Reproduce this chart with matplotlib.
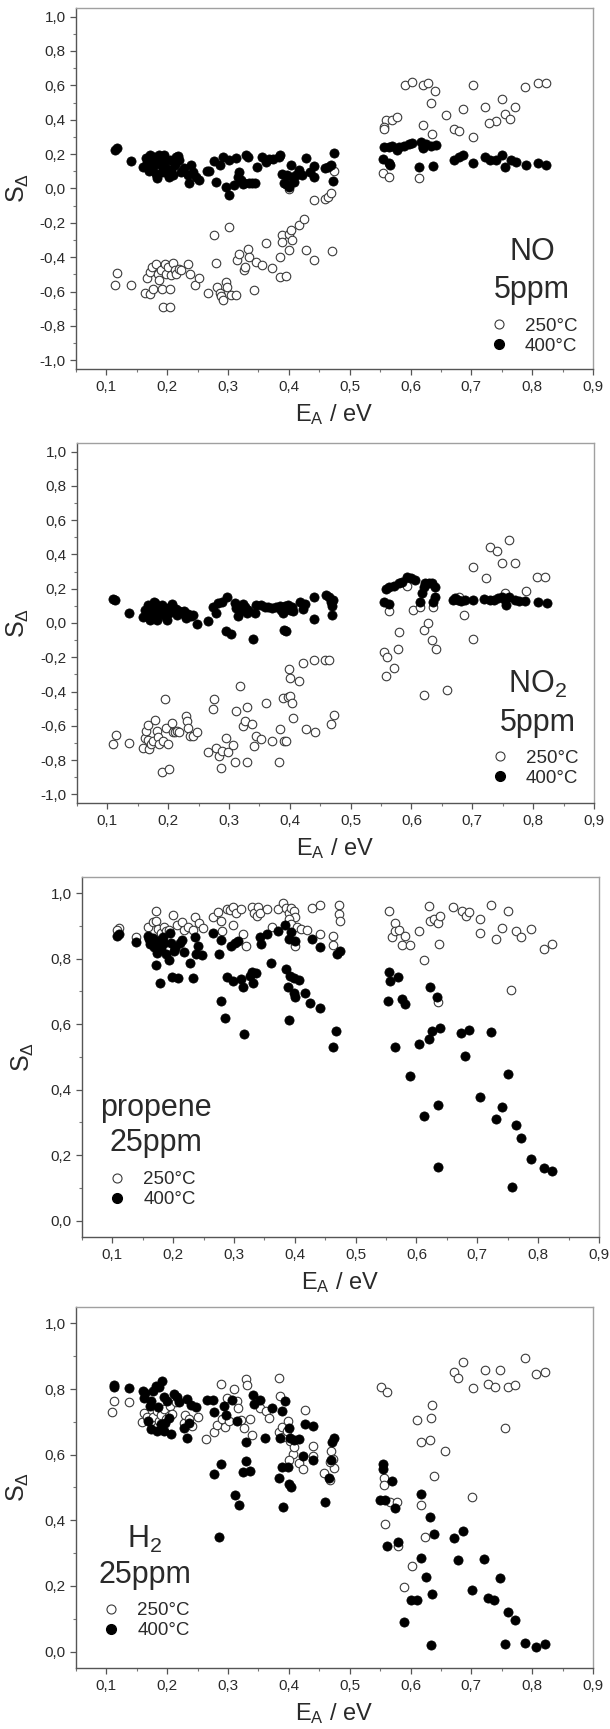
import numpy as np
import matplotlib
matplotlib.use("Agg")
from matplotlib import pyplot as plt
from matplotlib.ticker import MultipleLocator, FuncFormatter
from matplotlib.lines import Line2D

plt.rcParams['font.family'] = ['Liberation Sans', 'DejaVu Sans']
plt.rcParams['mathtext.fontset'] = 'custom'
plt.rcParams['mathtext.rm'] = 'Liberation Sans'
plt.rcParams['mathtext.it'] = 'Liberation Sans:italic'

TXT = '#2a2a2a'

# ---- NO, 5 ppm  (E_A, S_delta) ----
no_250 = [
    (0.114, -0.563), (0.118, -0.491), (0.140, -0.563), (0.163, -0.608), (0.172, -0.612),
    (0.166, -0.518), (0.172, -0.485), (0.175, -0.456), (0.177, -0.583), (0.181, -0.441),
    (0.184, -0.495), (0.186, -0.530), (0.190, -0.476), (0.192, -0.583), (0.193, -0.689),
    (0.196, -0.441), (0.198, -0.495), (0.201, -0.456), (0.204, -0.583), (0.205, -0.689),
    (0.207, -0.505), (0.209, -0.433), (0.212, -0.476), (0.215, -0.495), (0.219, -0.466),
    (0.223, -0.476), (0.234, -0.441), (0.237, -0.495), (0.245, -0.563), (0.252, -0.518),
    (0.267, -0.608), (0.280, -0.433), (0.277, -0.268), (0.281, -0.573), (0.286, -0.608),
    (0.289, -0.627), (0.292, -0.650), (0.296, -0.544), (0.299, -0.573), (0.302, -0.223),
    (0.305, -0.621), (0.313, -0.621), (0.314, -0.417), (0.318, -0.379), (0.326, -0.476),
    (0.328, -0.456), (0.332, -0.350), (0.335, -0.398), (0.343, -0.588), (0.346, -0.427),
    (0.356, -0.447), (0.363, -0.315), (0.372, -0.460), (0.385, -0.515), (0.386, -0.398),
    (0.388, -0.272), (0.389, -0.311), (0.396, -0.511), (0.400, -0.262), (0.401, -0.359),
    (0.403, -0.243), (0.405, -0.301), (0.417, -0.214), (0.425, -0.179), (0.428, -0.359),
    (0.441, -0.068), (0.442, -0.417), (0.460, -0.064), (0.465, -0.049), (0.470, -0.029),
    (0.471, -0.363), (0.475, 0.103), (0.400, -0.005),
    (0.591, 0.602), (0.603, 0.621), (0.620, 0.602), (0.628, 0.612), (0.641, 0.569),
    (0.633, 0.499), (0.703, 0.602), (0.789, 0.592), (0.809, 0.612), (0.823, 0.616),
    (0.658, 0.427), (0.687, 0.460), (0.723, 0.476), (0.750, 0.522), (0.772, 0.476),
    (0.756, 0.433), (0.763, 0.402), (0.741, 0.394), (0.729, 0.379), (0.559, 0.398),
    (0.570, 0.398), (0.578, 0.414), (0.556, 0.355), (0.556, 0.345), (0.621, 0.369),
    (0.672, 0.344), (0.680, 0.336), (0.635, 0.317), (0.703, 0.298), (0.554, 0.091),
    (0.564, 0.064), (0.614, 0.058),
]
no_400 = [
    (0.114, 0.223), (0.117, 0.233), (0.140, 0.161), (0.160, 0.126), (0.165, 0.175),
    (0.167, 0.146), (0.170, 0.103), (0.172, 0.194), (0.174, 0.165), (0.177, 0.126),
    (0.179, 0.181), (0.181, 0.087), (0.183, 0.058), (0.185, 0.155), (0.187, 0.194),
    (0.190, 0.136), (0.192, 0.097), (0.194, 0.194), (0.196, 0.165), (0.198, 0.117),
    (0.201, 0.087), (0.203, 0.068), (0.205, 0.165), (0.207, 0.107), (0.209, 0.078),
    (0.212, 0.136), (0.215, 0.181), (0.217, 0.188), (0.220, 0.165), (0.223, 0.097),
    (0.228, 0.117), (0.234, 0.078), (0.235, 0.029), (0.239, 0.136), (0.243, 0.097),
    (0.247, 0.064), (0.252, 0.049), (0.265, 0.103), (0.269, 0.103), (0.277, 0.161),
    (0.280, 0.039), (0.286, 0.136), (0.291, 0.184), (0.296, 0.010), (0.301, -0.039),
    (0.302, 0.165), (0.310, 0.019), (0.313, 0.175), (0.316, 0.068), (0.318, 0.097),
    (0.321, 0.049), (0.324, 0.025), (0.326, 0.029), (0.329, 0.194), (0.332, 0.181),
    (0.335, 0.033), (0.340, 0.029), (0.344, 0.033), (0.347, 0.126), (0.355, 0.184),
    (0.362, 0.155), (0.367, 0.169), (0.374, 0.173), (0.384, 0.184), (0.386, 0.194),
    (0.389, 0.087), (0.392, 0.033), (0.395, 0.025), (0.397, 0.078), (0.400, 0.010),
    (0.403, 0.136), (0.405, 0.068), (0.408, 0.039), (0.411, 0.078), (0.417, 0.107),
    (0.421, 0.078), (0.428, 0.175), (0.435, 0.097), (0.441, 0.130), (0.442, 0.068),
    (0.460, 0.117), (0.465, 0.126), (0.470, 0.136), (0.472, 0.045), (0.475, 0.208),
    (0.556, 0.239), (0.564, 0.239), (0.570, 0.247), (0.578, 0.223), (0.581, 0.243),
    (0.589, 0.247), (0.597, 0.258), (0.603, 0.266), (0.617, 0.272), (0.621, 0.243),
    (0.626, 0.258), (0.633, 0.247), (0.642, 0.252), (0.620, 0.233), (0.554, 0.169),
    (0.564, 0.150), (0.566, 0.136), (0.614, 0.126), (0.637, 0.130), (0.672, 0.165),
    (0.679, 0.181), (0.686, 0.196), (0.703, 0.150), (0.723, 0.184), (0.730, 0.165),
    (0.740, 0.165), (0.750, 0.194), (0.756, 0.126), (0.765, 0.165), (0.774, 0.155),
    (0.790, 0.136), (0.809, 0.150), (0.823, 0.136),
]

# ---- NO2, 5 ppm ----
no2_250 = [
    (0.110, -0.706), (0.114, -0.654), (0.136, -0.700), (0.159, -0.731), (0.162, -0.673),
    (0.164, -0.629), (0.166, -0.681), (0.167, -0.596), (0.169, -0.735), (0.171, -0.706),
    (0.175, -0.687), (0.178, -0.565), (0.181, -0.629), (0.184, -0.668), (0.185, -0.706),
    (0.189, -0.867), (0.191, -0.687), (0.195, -0.442), (0.196, -0.610), (0.199, -0.706),
    (0.202, -0.851), (0.206, -0.581), (0.208, -0.635), (0.211, -0.635), (0.215, -0.629),
    (0.218, -0.635), (0.229, -0.542), (0.231, -0.571), (0.233, -0.610), (0.236, -0.658),
    (0.241, -0.658), (0.248, -0.639), (0.265, -0.755), (0.274, -0.503), (0.275, -0.442),
    (0.278, -0.731), (0.284, -0.774), (0.286, -0.847), (0.288, -0.745), (0.295, -0.673),
    (0.299, -0.755), (0.307, -0.712), (0.310, -0.813), (0.312, -0.513), (0.318, -0.368),
    (0.323, -0.600), (0.326, -0.571), (0.329, -0.813), (0.330, -0.488), (0.337, -0.590),
    (0.341, -0.720), (0.345, -0.658), (0.353, -0.677), (0.361, -0.465), (0.370, -0.687),
    (0.382, -0.813), (0.384, -0.619), (0.389, -0.436), (0.390, -0.687), (0.393, -0.687),
    (0.397, -0.430), (0.399, -0.268), (0.400, -0.320), (0.400, -0.426), (0.403, -0.465),
    (0.405, -0.557), (0.415, -0.339), (0.422, -0.233), (0.427, -0.619), (0.439, -0.217),
    (0.441, -0.639), (0.457, -0.217), (0.464, -0.217), (0.468, -0.590), (0.472, -0.536),
    (0.563, 0.067), (0.580, -0.055), (0.577, -0.152), (0.554, -0.171), (0.559, -0.198),
    (0.572, -0.262), (0.558, -0.310), (0.592, 0.215), (0.603, 0.076), (0.614, 0.092),
    (0.636, 0.096), (0.620, -0.043), (0.627, -0.001), (0.634, -0.101), (0.640, -0.152),
    (0.621, -0.422), (0.659, -0.391), (0.687, 0.047), (0.701, -0.094), (0.701, 0.324),
    (0.723, 0.260), (0.729, 0.443), (0.740, 0.420), (0.748, 0.347), (0.761, 0.486),
    (0.771, 0.347), (0.789, 0.188), (0.807, 0.266), (0.820, 0.266), (0.754, 0.177),
    (0.678, 0.150),
]
no2_400 = [
    (0.110, 0.138), (0.113, 0.134), (0.136, 0.057), (0.158, 0.034), (0.162, 0.076),
    (0.166, 0.105), (0.169, 0.057), (0.170, 0.018), (0.173, 0.086), (0.176, 0.125),
    (0.177, 0.047), (0.178, 0.115), (0.181, 0.076), (0.182, 0.018), (0.185, 0.096),
    (0.187, 0.057), (0.189, 0.105), (0.192, 0.076), (0.195, 0.038), (0.198, 0.015),
    (0.199, 0.086), (0.202, 0.057), (0.205, 0.096), (0.207, 0.111), (0.210, 0.067),
    (0.213, 0.080), (0.215, 0.047), (0.218, 0.067), (0.222, 0.057), (0.226, 0.067),
    (0.229, 0.028), (0.233, 0.053), (0.237, 0.038), (0.241, 0.047), (0.248, -0.005),
    (0.265, 0.011), (0.274, 0.096), (0.278, 0.061), (0.282, 0.119), (0.288, 0.125),
    (0.296, 0.154), (0.295, -0.049), (0.303, -0.063), (0.310, 0.115), (0.312, 0.086),
    (0.315, 0.042), (0.318, 0.067), (0.323, 0.111), (0.326, 0.096), (0.329, 0.057),
    (0.332, 0.076), (0.340, -0.094), (0.342, 0.061), (0.345, 0.105), (0.353, 0.105),
    (0.359, 0.096), (0.364, 0.096), (0.370, 0.086), (0.378, 0.096), (0.384, 0.100),
    (0.386, 0.076), (0.389, 0.057), (0.390, -0.040), (0.392, 0.100), (0.394, -0.049),
    (0.397, 0.105), (0.400, 0.076), (0.403, 0.096), (0.405, 0.067), (0.416, 0.125),
    (0.422, 0.080), (0.425, 0.111), (0.439, 0.154), (0.439, 0.022), (0.459, 0.163),
    (0.464, 0.154), (0.468, 0.125), (0.470, 0.100), (0.471, 0.134), (0.470, 0.047),
    (0.554, 0.125), (0.563, 0.111), (0.558, 0.196), (0.563, 0.208), (0.572, 0.215),
    (0.579, 0.231), (0.584, 0.241), (0.592, 0.270), (0.600, 0.260), (0.606, 0.250),
    (0.614, 0.125), (0.618, 0.173), (0.621, 0.208), (0.623, 0.235), (0.628, 0.235),
    (0.634, 0.231), (0.639, 0.212), (0.636, 0.125), (0.639, 0.154), (0.669, 0.134),
    (0.672, 0.144), (0.677, 0.134), (0.681, 0.130), (0.688, 0.134), (0.701, 0.134),
    (0.720, 0.138), (0.729, 0.134), (0.736, 0.134), (0.742, 0.144), (0.748, 0.154),
    (0.753, 0.134), (0.756, 0.105), (0.761, 0.154), (0.770, 0.134), (0.776, 0.130),
    (0.787, 0.130), (0.808, 0.125), (0.823, 0.115),
]

# ---- propene, 25 ppm ----
propene_250 = [
    (0.111, 0.893), (0.108, 0.887), (0.138, 0.867), (0.159, 0.898), (0.166, 0.912),
    (0.171, 0.915), (0.175, 0.891), (0.171, 0.946), (0.180, 0.879), (0.185, 0.898),
    (0.188, 0.884), (0.193, 0.889), (0.200, 0.934), (0.206, 0.902), (0.214, 0.912),
    (0.217, 0.889), (0.224, 0.898), (0.235, 0.928), (0.233, 0.889), (0.243, 0.908),
    (0.249, 0.894), (0.266, 0.927), (0.274, 0.942), (0.278, 0.915), (0.280, 0.884),
    (0.288, 0.953), (0.293, 0.949), (0.298, 0.959), (0.299, 0.902), (0.304, 0.940),
    (0.311, 0.951), (0.315, 0.877), (0.319, 0.838), (0.329, 0.959), (0.333, 0.940),
    (0.337, 0.930), (0.340, 0.957), (0.343, 0.940), (0.354, 0.951), (0.362, 0.898),
    (0.372, 0.953), (0.381, 0.971), (0.385, 0.955), (0.390, 0.940), (0.394, 0.955),
    (0.399, 0.947), (0.401, 0.928), (0.391, 0.920), (0.394, 0.905), (0.404, 0.898),
    (0.401, 0.838), (0.410, 0.891), (0.420, 0.887), (0.428, 0.955), (0.441, 0.963),
    (0.441, 0.877), (0.463, 0.871), (0.463, 0.843), (0.472, 0.963), (0.472, 0.936),
    (0.475, 0.915),
    (0.554, 0.946), (0.559, 0.867), (0.564, 0.910), (0.565, 0.884), (0.571, 0.887),
    (0.576, 0.843), (0.581, 0.871), (0.590, 0.843), (0.604, 0.884), (0.613, 0.797),
    (0.620, 0.961), (0.623, 0.915), (0.629, 0.922), (0.635, 0.908), (0.639, 0.932),
    (0.637, 0.846), (0.635, 0.669), (0.660, 0.957), (0.675, 0.946), (0.681, 0.932),
    (0.687, 0.942), (0.704, 0.920), (0.704, 0.879), (0.723, 0.963), (0.731, 0.859),
    (0.740, 0.894), (0.750, 0.946), (0.763, 0.884), (0.772, 0.867), (0.789, 0.891),
    (0.809, 0.830), (0.823, 0.845), (0.756, 0.705),
]
propene_400 = [
    (0.111, 0.877), (0.108, 0.871), (0.138, 0.850), (0.159, 0.871), (0.161, 0.859),
    (0.162, 0.846), (0.166, 0.863), (0.169, 0.837), (0.171, 0.781), (0.173, 0.818),
    (0.177, 0.853), (0.179, 0.725), (0.180, 0.833), (0.184, 0.867), (0.185, 0.848),
    (0.188, 0.814), (0.193, 0.795), (0.195, 0.879), (0.197, 0.848), (0.198, 0.745),
    (0.201, 0.823), (0.203, 0.833), (0.208, 0.741), (0.211, 0.848), (0.214, 0.857),
    (0.217, 0.820), (0.228, 0.788), (0.232, 0.741), (0.235, 0.867), (0.237, 0.814),
    (0.240, 0.840), (0.248, 0.810), (0.266, 0.879), (0.275, 0.816), (0.278, 0.857),
    (0.278, 0.672), (0.285, 0.618), (0.289, 0.744), (0.295, 0.838), (0.298, 0.731),
    (0.301, 0.848), (0.307, 0.853), (0.312, 0.738), (0.315, 0.713), (0.317, 0.570),
    (0.327, 0.746), (0.330, 0.761), (0.332, 0.725), (0.336, 0.758), (0.342, 0.867),
    (0.345, 0.846), (0.354, 0.877), (0.360, 0.788), (0.372, 0.884), (0.383, 0.904),
    (0.385, 0.768), (0.388, 0.713), (0.391, 0.613), (0.392, 0.748), (0.394, 0.881),
    (0.391, 0.861), (0.398, 0.740), (0.399, 0.695), (0.401, 0.684), (0.401, 0.853),
    (0.407, 0.736), (0.417, 0.695), (0.425, 0.664), (0.428, 0.861), (0.441, 0.651),
    (0.441, 0.836), (0.463, 0.531), (0.467, 0.580), (0.470, 0.814), (0.475, 0.823),
    (0.554, 0.761), (0.557, 0.731), (0.553, 0.672), (0.564, 0.531), (0.570, 0.744),
    (0.576, 0.678), (0.581, 0.662), (0.590, 0.441), (0.604, 0.539), (0.613, 0.318),
    (0.620, 0.555), (0.622, 0.713), (0.626, 0.578), (0.633, 0.684), (0.636, 0.354),
    (0.636, 0.164), (0.639, 0.587), (0.673, 0.574), (0.680, 0.502), (0.687, 0.582),
    (0.704, 0.377), (0.723, 0.577), (0.731, 0.310), (0.740, 0.348), (0.750, 0.447),
    (0.757, 0.102), (0.763, 0.293), (0.772, 0.252), (0.789, 0.189), (0.810, 0.160),
    (0.823, 0.152),
]

# ---- H2, 25 ppm ----
h2_250 = [
    (0.110, 0.729), (0.113, 0.762), (0.137, 0.759), (0.158, 0.698), (0.162, 0.726),
    (0.166, 0.715), (0.173, 0.703), (0.177, 0.715), (0.183, 0.734), (0.187, 0.701),
    (0.190, 0.722), (0.195, 0.739), (0.198, 0.708), (0.205, 0.749), (0.208, 0.724),
    (0.214, 0.759), (0.227, 0.695), (0.230, 0.722), (0.235, 0.708), (0.241, 0.688),
    (0.250, 0.715), (0.264, 0.649), (0.277, 0.668), (0.282, 0.691), (0.288, 0.815),
    (0.290, 0.708), (0.295, 0.683), (0.298, 0.772), (0.301, 0.701), (0.309, 0.800),
    (0.314, 0.764), (0.317, 0.742), (0.322, 0.705), (0.327, 0.681), (0.329, 0.830),
    (0.331, 0.813), (0.336, 0.708), (0.339, 0.661), (0.352, 0.742), (0.362, 0.734),
    (0.368, 0.711), (0.383, 0.833), (0.383, 0.668), (0.386, 0.779), (0.388, 0.685),
    (0.391, 0.654), (0.397, 0.671), (0.399, 0.701), (0.402, 0.642), (0.406, 0.602),
    (0.400, 0.583), (0.408, 0.622), (0.417, 0.576), (0.423, 0.556), (0.427, 0.736),
    (0.439, 0.627), (0.439, 0.597), (0.457, 0.543), (0.468, 0.522), (0.470, 0.610),
    (0.472, 0.586), (0.474, 0.559), (0.468, 0.579),
    (0.551, 0.807), (0.561, 0.790), (0.556, 0.530), (0.556, 0.508), (0.558, 0.388),
    (0.567, 0.457), (0.577, 0.457), (0.579, 0.322), (0.590, 0.197), (0.603, 0.261),
    (0.611, 0.705), (0.617, 0.447), (0.617, 0.637), (0.624, 0.350), (0.632, 0.644),
    (0.633, 0.711), (0.635, 0.752), (0.638, 0.536), (0.657, 0.612), (0.671, 0.851),
    (0.678, 0.833), (0.686, 0.881), (0.701, 0.472), (0.702, 0.803), (0.722, 0.858),
    (0.728, 0.815), (0.739, 0.807), (0.747, 0.858), (0.755, 0.681), (0.760, 0.807),
    (0.772, 0.813), (0.789, 0.894), (0.806, 0.846), (0.821, 0.851),
]
h2_400 = [
    (0.112, 0.812), (0.113, 0.807), (0.137, 0.803), (0.160, 0.795), (0.162, 0.774),
    (0.164, 0.787), (0.168, 0.703), (0.171, 0.749), (0.173, 0.678), (0.174, 0.764),
    (0.177, 0.795), (0.181, 0.810), (0.183, 0.673), (0.185, 0.746), (0.187, 0.805),
    (0.189, 0.693), (0.192, 0.823), (0.194, 0.776), (0.195, 0.673), (0.196, 0.695),
    (0.200, 0.764), (0.203, 0.713), (0.207, 0.663), (0.211, 0.785), (0.216, 0.776),
    (0.219, 0.759), (0.227, 0.681), (0.232, 0.769), (0.232, 0.650), (0.235, 0.695),
    (0.239, 0.752), (0.248, 0.744), (0.266, 0.766), (0.275, 0.766), (0.277, 0.541),
    (0.277, 0.729), (0.285, 0.350), (0.288, 0.571), (0.293, 0.749), (0.297, 0.722),
    (0.307, 0.766), (0.311, 0.478), (0.314, 0.701), (0.318, 0.447), (0.324, 0.546),
    (0.329, 0.637), (0.330, 0.581), (0.336, 0.551), (0.341, 0.783), (0.342, 0.754),
    (0.352, 0.766), (0.361, 0.650), (0.372, 0.742), (0.383, 0.528), (0.385, 0.650),
    (0.388, 0.561), (0.389, 0.734), (0.391, 0.441), (0.393, 0.764), (0.399, 0.561),
    (0.400, 0.681), (0.400, 0.510), (0.402, 0.652), (0.404, 0.500), (0.408, 0.644),
    (0.417, 0.648), (0.423, 0.597), (0.426, 0.693), (0.439, 0.688), (0.439, 0.583),
    (0.460, 0.457), (0.466, 0.528), (0.470, 0.583), (0.471, 0.637), (0.474, 0.652),
    (0.555, 0.571), (0.555, 0.556), (0.549, 0.461), (0.558, 0.461), (0.561, 0.322),
    (0.569, 0.520), (0.575, 0.437), (0.579, 0.335), (0.590, 0.091), (0.601, 0.157),
    (0.611, 0.157), (0.617, 0.480), (0.617, 0.285), (0.625, 0.228), (0.632, 0.411),
    (0.635, 0.175), (0.633, 0.020), (0.638, 0.358), (0.671, 0.346), (0.678, 0.278),
    (0.686, 0.368), (0.701, 0.187), (0.721, 0.281), (0.727, 0.163), (0.738, 0.157),
    (0.747, 0.224), (0.755, 0.022), (0.761, 0.122), (0.772, 0.096), (0.789, 0.027),
    (0.806, 0.014), (0.821, 0.022),
]

temps = ["250°C", "400°C"]


def comma_fmt(v, pos):
    return f"{v:.1f}".replace(".", ",")


def draw_panel(ax, pts_open, pts_full, ylim, gas_lines, gas_xy, leg_loc, leg_anchor):
    a = np.array(pts_open)
    b = np.array(pts_full)
    ax.scatter(a[:, 0], a[:, 1], s=38, facecolors='white', edgecolors='#3a3a3a',
               linewidths=0.8, zorder=3)
    ax.scatter(b[:, 0], b[:, 1], s=44, facecolors='black', edgecolors='black',
               linewidths=0.5, zorder=4)

    ax.set_xlim(0.05, 0.9)
    ax.set_ylim(*ylim)
    ax.xaxis.set_major_locator(MultipleLocator(0.1))
    ax.xaxis.set_minor_locator(MultipleLocator(0.05))
    ax.yaxis.set_major_locator(MultipleLocator(0.2))
    ax.yaxis.set_minor_locator(MultipleLocator(0.1))
    ax.xaxis.set_major_formatter(FuncFormatter(comma_fmt))
    ax.yaxis.set_major_formatter(FuncFormatter(comma_fmt))
    ax.tick_params(which='major', direction='out', length=4.5, width=0.9, color='#555555',
                   labelsize=11, labelcolor=TXT)
    ax.tick_params(axis='x', which='major', pad=3.5)
    ax.tick_params(axis='y', which='major', pad=3)
    ax.tick_params(which='minor', direction='out', length=2.5, width=0.8, color='#777777')
    ax.tick_params(top=False, right=False)

    for side in ['left', 'bottom']:
        ax.spines[side].set_color('#555555')
        ax.spines[side].set_linewidth(1.0)
    for side in ['top', 'right']:
        ax.spines[side].set_color('#a0a0a0')
        ax.spines[side].set_linewidth(1.0)

    ax.set_xlabel(r'E$_\mathrm{A}$ / eV', fontsize=17, color=TXT)
    ax.set_ylabel(r'S$_\mathrm{\Delta}$', fontsize=18, color=TXT)
    ax.xaxis.set_label_coords(0.5, -0.093)
    ax.yaxis.set_label_coords(-0.088, 0.5)

    (gx, gy1, gy2) = gas_xy
    ax.text(gx, gy1, gas_lines[0], transform=ax.transAxes, fontsize=22,
            ha='center', va='center', color=TXT)
    ax.text(gx, gy2, gas_lines[1], transform=ax.transAxes, fontsize=22,
            ha='center', va='center', color=TXT)

    handles = [
        Line2D([], [], ls='none', marker='o', ms=6.5, mfc='white', mec='#3a3a3a', mew=0.8),
        Line2D([], [], ls='none', marker='o', ms=7, mfc='black', mec='black'),
    ]
    leg = ax.legend(handles, temps, loc=leg_loc, bbox_to_anchor=leg_anchor,
                    frameon=False, fontsize=13.5, handletextpad=0.9, handlelength=1.0,
                    labelspacing=0.15, borderaxespad=0, borderpad=0)
    for t in leg.get_texts():
        t.set_color(TXT)


fig = plt.figure(figsize=(6.1, 17.29), dpi=100)

ax1 = fig.add_axes([0.1246, 0.7866, 0.8475, 0.2088])
draw_panel(ax1, no_250, no_400, (-1.05, 1.05), ("NO", "5ppm"),
           (0.882, 0.324, 0.219), 'lower right', (0.97, 0.04))

ax2 = fig.add_axes([0.1262, 0.5356, 0.8475, 0.2082])
draw_panel(ax2, no2_250, no2_400, (-1.05, 1.05), (r"NO$_\mathrm{2}$", "5ppm"),
           (0.891, 0.328, 0.222), 'lower right', (0.97, 0.045))

ax3 = fig.add_axes([0.1344, 0.2846, 0.8475, 0.2082])
draw_panel(ax3, propene_250, propene_400, (-0.05, 1.05), ("propene", "25ppm"),
           (0.143, 0.358, 0.261), 'lower left', (0.05, 0.08))

ax4 = fig.add_axes([0.1246, 0.0353, 0.8475, 0.2088])
draw_panel(ax4, h2_250, h2_400, (-0.05, 1.05), (r"H$_\mathrm{2}$", "25ppm"),
           (0.133, 0.355, 0.258), 'lower left', (0.05, 0.08))

fig.savefig("out.png", dpi=100)
